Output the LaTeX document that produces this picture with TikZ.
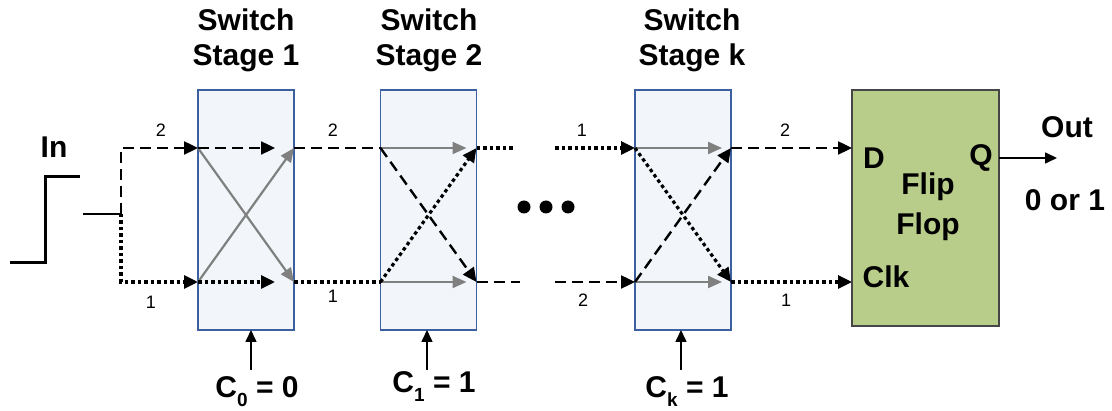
\documentclass[tikz,border=0pt]{standalone}
\usepackage{fontspec}
\setmainfont{Liberation Sans}
\usetikzlibrary{arrows.meta}

\definecolor{stagefill}{RGB}{242,246,250}
\definecolor{stageline}{RGB}{60,95,160}
\definecolor{fffill}{RGB}{185,205,138}
\definecolor{ffline}{RGB}{70,70,70}
\definecolor{wiregray}{RGB}{128,128,128}

\newcommand{\ctrl}[2]{C\raisebox{-0.3em}{\fontsize{19}{19}\selectfont #1} = #2}

\tikzset{
  stagebox/.style={draw=stageline, fill=stagefill, line width=1.5pt, outer sep=0pt,
    minimum width=96pt, minimum height=240pt, inner sep=0pt},
  ffbox/.style={draw=ffline, fill=fffill, line width=1.2pt, outer sep=0pt,
    minimum width=147pt, minimum height=236pt, inner sep=0pt},
  big/.style={font=\bfseries\fontsize{30}{35}\selectfont, align=center, inner sep=0pt},
  small/.style={font=\fontsize{18}{20}\selectfont, inner sep=0pt},
  dashline/.style={black, line width=2.4pt, dash pattern=on 11pt off 6pt},
  dotline/.style={black, line width=3.2pt, dash pattern=on 3.5pt off 3pt},
  tip/.style={-{Triangle[length=14pt,width=13pt]}},
  thin tip/.style={-{Triangle[length=12pt,width=11pt]}},
  grayarrow/.style={wiregray, line width=2.2pt, -{Triangle[length=14pt,width=12pt]}},
}

\begin{document}
\begin{tikzpicture}[x=1pt,y=-1pt]
\useasboundingbox (0,0) rectangle (1112,411);

% rows of the two wires
\coordinate (top) at (0,148);
\coordinate (bot) at (0,282);

% switch stages and flip flop
\node[stagebox] (s1) at (246,210) {};
\node[stagebox] (s2) at (428.5,210) {};
\node[stagebox] (sk) at (683,210) {};
\node[ffbox] (ff) at (925.5,208) {};

\foreach \s in {s1,s2,sk} {
  \coordinate (\s-tl) at (\s.west |- top);
  \coordinate (\s-bl) at (\s.west |- bot);
  \coordinate (\s-tr) at (\s.east |- top);
  \coordinate (\s-br) at (\s.east |- bot);
}

% titles
\node[big] (t1) at (246,40) {Switch\\Stage 1};
\node[big] (t2) at (429,40) {Switch\\Stage 2};
\node[big] (tk) at (692,40) {Switch\\Stage k};

% input step
\node[big] (inlab) at (54,147) {In};
\draw[line width=3pt] (10,263) -- (45,263) -- (45,177) -- (80,177);
\coordinate (fork) at (121,214);
\draw[line width=1.6pt] (83,214) -- (fork);
\draw[dashline, tip] (fork) |- (s1-tl);
\draw[dotline, tip] (fork) |- (s1-bl);
\node[small] (l1a) at (161,130) {2};
\node[small] (l1b) at (151,302) {1};

% stage 1, straight through
\draw[grayarrow] (s1-tl) -- (s1-br);
\draw[grayarrow] (s1-bl) -- (s1-tr);
\draw[dashline, tip] (s1-tl) -- ([xshift=-19pt]s1-tr);
\draw[dotline, tip] (s1-bl) -- ([xshift=-19pt]s1-br);

\draw[dashline] (s1-tr) -- (s2-tl);
\draw[dotline] (s1-br) -- (s2-bl);
\node[small] (l2a) at (333,130) {2};
\node[small] (l2b) at (333,296) {1};

% stage 2, crossed
\draw[grayarrow] (s2-tl) -- ([xshift=-10pt]s2-tr);
\draw[grayarrow] (s2-bl) -- ([xshift=-10pt]s2-br);
\draw[dashline, tip] (s2-tl) -- (s2-br);
\draw[dotline, tip] (s2-bl) -- (s2-tr);

\coordinate (end2) at (515,148);
\coordinate (end1) at (520,282);
\draw[dotline] (s2-tr) -- (end2);
\draw[dashline] (s2-br) -- (end1);

\foreach \x in {524,546,568} \fill (\x,207) circle (6.5);

% stage k, crossed
\coordinate (start1) at (555,148);
\coordinate (start2) at (555,282);
\draw[dotline, tip] (start1) -- (sk-tl);
\draw[dashline, tip] (start2) -- (sk-bl);
\node[small] (l3a) at (582,130) {1};
\node[small] (l3b) at (583,300) {2};

\draw[grayarrow] (sk-tl) -- ([xshift=-9pt]sk-tr);
\draw[grayarrow] (sk-bl) -- ([xshift=-9pt]sk-br);
\draw[dotline, tip] (sk-tl) -- (sk-br);
\draw[dashline, tip] (sk-bl) -- (sk-tr);

\draw[dashline, tip] (sk-tr) -- (ff.west |- top);
\draw[dotline, tip] (sk-br) -- (ff.west |- bot);
\node[small] (l4a) at (785,130) {2};
\node[small] (l4b) at (786,300) {1};

% flip flop
\node[big] (dlab) at (874,158) {D};
\node[big] (qlab) at (981,158) {Q};
\node[big, font=\bfseries\fontsize{30}{40}\selectfont] (fflab) at (928,207) {Flip\\Flop};
\node[big] (clklab) at (886,277) {Clk};

\coordinate (outq) at (1057,158);
\draw[line width=1.6pt, thin tip] (ff.east |- qlab) -- (outq);
\node[big] (outlab) at (1067,127) {Out};
\node[big] (outval) at (1065,200) {0 or 1};

% control inputs
\node[big] (c0) at (257,392) {\ctrl{0}{0}};
\node[big] (c1) at (434,387) {\ctrl{1}{1}};
\node[big] (ck) at (687,392) {\ctrl{k}{1}};
\coordinate (a0) at (251,370);
\coordinate (a1) at (427,370);
\coordinate (ak) at (681,370);
\draw[line width=1.6pt, thin tip] (a0) -- (s1.south -| a0);
\draw[line width=1.6pt, thin tip] (a1) -- (s2.south -| a1);
\draw[line width=1.6pt, thin tip] (ak) -- (sk.south -| ak);
\end{tikzpicture}
\end{document}
